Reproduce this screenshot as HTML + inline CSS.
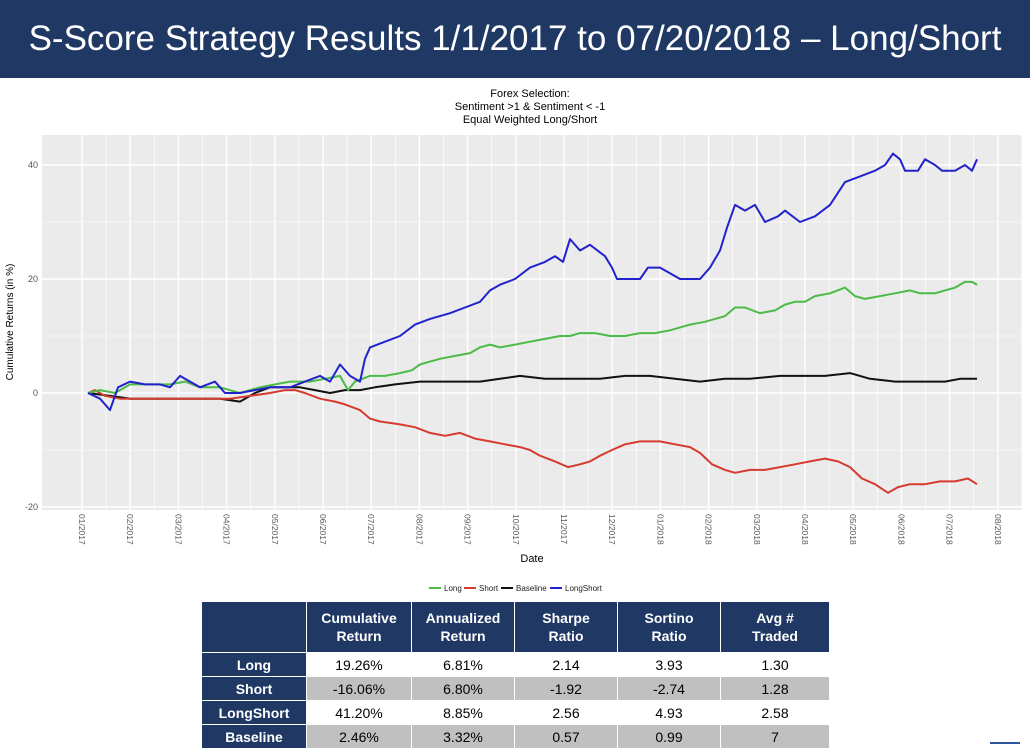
<!DOCTYPE html>
<html><head><meta charset="utf-8"><style>
body{margin:0;width:1030px;height:749px;background:#fff;overflow:hidden;font-family:"Liberation Sans",sans-serif;position:relative}
.title{position:absolute;left:0;top:0;width:1030px;height:78px;background:#1f3864;color:#fff;font-size:35px;line-height:78px;text-align:center}
table{position:absolute;left:201px;top:601px;border-collapse:collapse;font-family:"Liberation Sans Narrow","Liberation Sans",sans-serif;font-size:14px}
td{text-align:center;border:1px solid #fff;padding:0}
.h td{background:#1f3864;color:#fff;font-weight:bold;height:50px;line-height:18px}
td.r{background:#1f3864;color:#fff;font-weight:bold}
tr.g td{background:#c0c0c0}
tr.g td.r{background:#1f3864}
tr.d td{height:23px}
</style></head><body>
<div class="title">S-Score Strategy Results 1/1/2017 to 07/20/2018 – Long/Short</div>
<svg width="1030" height="749" style="position:absolute;left:0;top:0" font-family="Liberation Sans, sans-serif">
<text x="530" y="97" font-size="11" text-anchor="middle">Forex Selection:</text>
<text x="530" y="110" font-size="11" text-anchor="middle">Sentiment &gt;1 &amp; Sentiment &lt; -1</text>
<text x="530" y="123" font-size="11" text-anchor="middle">Equal Weighted Long/Short</text>
<rect x="42" y="135" width="980" height="375" fill="#ebebeb"/>
<g stroke="#f7f7f7" stroke-width="0.8">
<line x1="42" x2="1022" y1="222" y2="222"/><line x1="42" x2="1022" y1="336" y2="336"/><line x1="42" x2="1022" y1="450" y2="450"/>
</g>
<g stroke="#fff" stroke-width="1.4">
<line x1="42" x2="1022" y1="165" y2="165"/><line x1="42" x2="1022" y1="279" y2="279"/><line x1="42" x2="1022" y1="393" y2="393"/><line x1="42" x2="1022" y1="507" y2="507"/>
</g>
<g id="vg" stroke="#fff" stroke-width="1"></g>
<g font-size="9" fill="#555" text-anchor="end">
<text x="38" y="168">40</text><text x="38" y="282">20</text><text x="38" y="396">0</text><text x="38" y="510">-20</text>
</g>
<text transform="translate(13,322) rotate(-90)" font-size="10" text-anchor="middle">Cumulative Returns (in %)</text>
<g id="xl" font-size="8.5" fill="#555"></g>
<text x="532" y="562" font-size="11" text-anchor="middle">Date</text>
<g font-size="8" fill="#222">
<line x1="429" x2="441" y1="588" y2="588" stroke="#4cbb47" stroke-width="2"/><text x="444" y="591">Long</text>
<line x1="464" x2="476" y1="588" y2="588" stroke="#d63b2f" stroke-width="2"/><text x="479" y="591">Short</text>
<line x1="501" x2="513" y1="588" y2="588" stroke="#111" stroke-width="2"/><text x="516" y="591">Baseline</text>
<line x1="550" x2="562" y1="588" y2="588" stroke="#2222cc" stroke-width="2"/><text x="565" y="591">LongShort</text>
</g>
<g id="ser" fill="none" stroke-width="2" stroke-linejoin="round"></g>
<line x1="990" x2="1020" y1="743" y2="743" stroke="#2e5597" stroke-width="2"/>
</svg>
<table>
<tr class="h"><td style="width:104px"></td><td style="width:104px">Cumulative<br>Return</td><td style="width:102px">Annualized<br>Return</td><td style="width:102px">Sharpe<br>Ratio</td><td style="width:102px">Sortino<br>Ratio</td><td style="width:108px">Avg #<br>Traded</td></tr>
<tr class="d"><td class="r">Long</td><td>19.26%</td><td>6.81%</td><td>2.14</td><td>3.93</td><td>1.30</td></tr>
<tr class="d g"><td class="r">Short</td><td>-16.06%</td><td>6.80%</td><td>-1.92</td><td>-2.74</td><td>1.28</td></tr>
<tr class="d"><td class="r">LongShort</td><td>41.20%</td><td>8.85%</td><td>2.56</td><td>4.93</td><td>2.58</td></tr>
<tr class="d g"><td class="r">Baseline</td><td>2.46%</td><td>3.32%</td><td>0.57</td><td>0.99</td><td>7</td></tr>
</table>
<script>
var NS="http://www.w3.org/2000/svg";
var vg=document.getElementById('vg'),xl=document.getElementById('xl');
for(var i=0;i<20;i++){var x=82+i*48.2;
 var l=document.createElementNS(NS,'line');l.setAttribute('x1',x);l.setAttribute('x2',x);l.setAttribute('y1',135);l.setAttribute('y2',510);l.setAttribute('stroke-width',1.4);vg.appendChild(l);
 var m=document.createElementNS(NS,'line');m.setAttribute('x1',x+24.1);m.setAttribute('x2',x+24.1);m.setAttribute('y1',135);m.setAttribute('y2',510);m.setAttribute('stroke-width',0.7);vg.appendChild(m);
 var mo=((i%12)+1),yr=i<12?2017:2018;var s=(mo<10?'0':'')+mo+'/'+yr;
 var t=document.createElementNS(NS,'text');t.setAttribute('transform','translate('+(x-3)+',514) rotate(90)');t.textContent=s;xl.appendChild(t);}
function Y(v){return 393-5.7*v}
var S={
"#2222cc":[[88,0],[100,-1],[110,-3],[118,1],[130,2],[145,1.5],[160,1.5],[170,1],[180,3],[190,2],[200,1],[215,2],[225,0],[240,0],[255,0.5],[270,1],[290,1],[305,2],[320,3],[330,2],[340,5],[350,3],[360,2],[365,6],[370,8],[385,9],[400,10],[415,12],[430,13],[450,14],[465,15],[480,16],[490,18],[500,19],[515,20],[530,22],[545,23],[555,24],[563,23],[570,27],[580,25],[590,26],[605,24],[612,22],[617,20],[630,20],[640,20],[648,22],[660,22],[670,21],[680,20],[700,20],[710,22],[720,25],[727,29],[735,33],[745,32],[755,33],[765,30],[778,31],[785,32],[800,30],[815,31],[830,33],[845,37],[860,38],[875,39],[885,40],[893,42],[900,41],[905,39],[918,39],[925,41],[935,40],[942,39],[955,39],[965,40],[972,39],[977,41]],
"#4cbb47":[[88,0],[100,0.5],[115,0],[130,1.5],[150,1.5],[170,1.5],[185,2],[200,1],[220,1],[240,0],[260,1],[275,1.5],[290,2],[310,2],[325,2.5],[340,3],[348,0.5],[355,2],[370,3],[385,3],[400,3.5],[412,4],[420,5],[430,5.5],[440,6],[455,6.5],[470,7],[480,8],[490,8.5],[500,8],[515,8.5],[530,9],[545,9.5],[560,10],[570,10],[580,10.5],[595,10.5],[610,10],[625,10],[640,10.5],[655,10.5],[670,11],[680,11.5],[690,12],[705,12.5],[715,13],[725,13.5],[735,15],[745,15],[760,14],[775,14.5],[785,15.5],[795,16],[805,16],[815,17],[830,17.5],[845,18.5],[855,17],[865,16.5],[880,17],[895,17.5],[910,18],[920,17.5],[935,17.5],[945,18],[955,18.5],[965,19.5],[972,19.5],[977,19]],
"#d63b2f":[[88,0],[95,0.5],[105,-0.5],[120,-1],[140,-1],[160,-1],[175,-1],[190,-1],[210,-1],[230,-1],[250,-0.5],[270,0],[285,0.5],[295,0.5],[305,0],[320,-1],[335,-1.5],[345,-2],[360,-3],[370,-4.5],[380,-5],[400,-5.5],[415,-6],[430,-7],[445,-7.5],[460,-7],[475,-8],[490,-8.5],[505,-9],[520,-9.5],[530,-10],[540,-11],[555,-12],[568,-13],[580,-12.5],[590,-12],[600,-11],[612,-10],[625,-9],[640,-8.5],[660,-8.5],[675,-9],[690,-9.5],[700,-10.5],[712,-12.5],[725,-13.5],[735,-14],[750,-13.5],[765,-13.5],[780,-13],[795,-12.5],[810,-12],[825,-11.5],[838,-12],[850,-13],[862,-15],[875,-16],[888,-17.5],[898,-16.5],[910,-16],[925,-16],[940,-15.5],[955,-15.5],[968,-15],[977,-16]],
"#111":[[88,0],[110,-0.5],[130,-1],[150,-1],[175,-1],[200,-1],[220,-1],[240,-1.5],[255,0],[270,1],[285,1],[300,1],[315,0.5],[330,0],[345,0.5],[360,0.5],[375,1],[395,1.5],[420,2],[450,2],[480,2],[500,2.5],[520,3],[545,2.5],[575,2.5],[600,2.5],[625,3],[650,3],[675,2.5],[700,2],[725,2.5],[750,2.5],[780,3],[800,3],[825,3],[850,3.5],[870,2.5],[895,2],[920,2],[945,2],[960,2.5],[977,2.5]]};
var ser=document.getElementById('ser');
["#111","#d63b2f","#4cbb47","#2222cc"].forEach(function(c){var p=document.createElementNS(NS,'polyline');
p.setAttribute('points',S[c].map(function(q){return q[0]+','+Y(q[1]).toFixed(1)}).join(' '));p.setAttribute('stroke',c);ser.appendChild(p);});
</script>
</body></html>
